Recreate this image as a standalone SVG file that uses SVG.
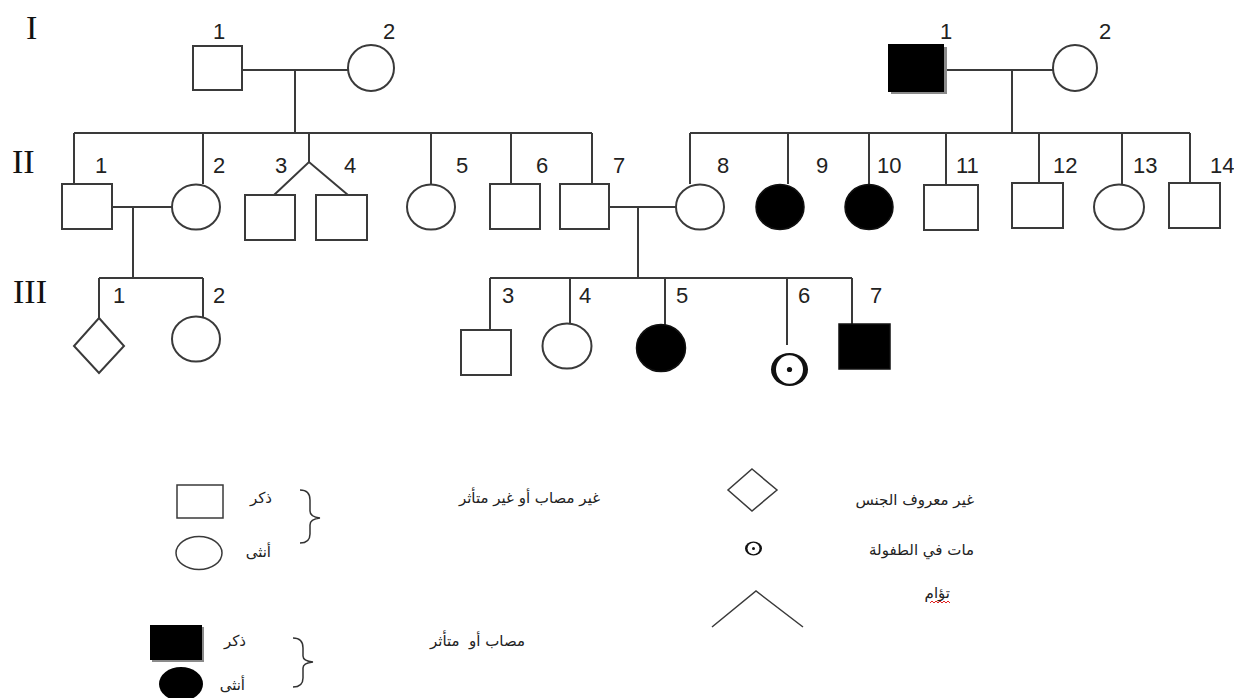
<svg xmlns="http://www.w3.org/2000/svg" width="1234" height="698" viewBox="0 0 1234 698">
<style>
  .ln{stroke:#3a3a3a;stroke-width:2;fill:none}
  .o{fill:#fff;stroke:#3a3a3a;stroke-width:2}
  .f{fill:#000;stroke:#111;stroke-width:1.5}
  .sh{fill:#8a8a8a}
  .num{font-family:"Liberation Sans",Arial,sans-serif;font-size:22px;fill:#222}
  .gen{font-family:"Liberation Serif","Times New Roman",serif;font-size:34px;fill:#111}
  .ar{font-family:"DejaVu Sans","Noto Sans",sans-serif;font-size:15px;fill:#222;white-space:pre}
  .br{stroke:#333;stroke-width:1.5;fill:none}
</style>
<rect width="1234" height="698" fill="#fff"/>

<g id="generations">
  <text class="gen" x="26" y="39">I</text>
  <text class="gen" x="12" y="173">II</text>
  <text class="gen" x="13" y="303">III</text>
</g>

<g id="connectors">
  <path class="ln" d="M242,70 H348 M295,70 V133 M74,133 H592 M74,133 V184 M203,133 V184 M309,133 V162 M431,133 V184 M511,133 V184 M592,133 V184"/>
  <path class="ln" d="M274,195 L309,162 L348,195"/>
  <path class="ln" d="M112,207 H172 M133,207 V278 M99,278 H203 M99,278 V318 M203,278 V317"/>
  <path class="ln" d="M944,70 H1053 M1012,70 V133 M690,133 H1190 M690,133 V184 M788,133 V184 M869,133 V184 M946,133 V185 M1039,133 V183 M1122,133 V184 M1190,133 V183"/>
  <path class="ln" d="M609,207 H676 M638,207 V278 M490,278 H852 M490,278 V330 M570,278 V324 M665,278 V325 M787,278 V345 M852,278 V324"/>
</g>

<g id="I-1"><rect class="o" x="193" y="46" width="49" height="44"/><text class="num" x="213" y="39">1</text></g>
<g id="I-2"><ellipse class="o" cx="371" cy="68" rx="23" ry="23"/><text class="num" x="383" y="39">2</text></g>
<g id="I-1b"><rect class="sh" x="891" y="47" width="56" height="47"/><rect x="888" y="44" width="56" height="48" fill="#000"/><text class="num" x="940" y="39">1</text></g>
<g id="I-2b"><ellipse class="o" cx="1075" cy="68" rx="22" ry="23"/><text class="num" x="1099" y="39">2</text></g>

<g id="II-1"><rect class="o" x="62" y="184" width="50" height="45"/><text class="num" x="95" y="173">1</text></g>
<g id="II-2"><ellipse class="o" cx="196" cy="207" rx="24" ry="22.5"/><text class="num" x="213" y="173">2</text></g>
<g id="II-3"><rect class="o" x="245" y="195" width="50" height="45"/><text class="num" x="275" y="173">3</text></g>
<g id="II-4"><rect class="o" x="316" y="195" width="51" height="45"/><text class="num" x="344" y="173">4</text></g>
<g id="II-5"><ellipse class="o" cx="431" cy="207" rx="24" ry="22.5"/><text class="num" x="456" y="173">5</text></g>
<g id="II-6"><rect class="o" x="490" y="184" width="50" height="45"/><text class="num" x="536" y="173">6</text></g>
<g id="II-7"><rect class="o" x="560" y="184" width="49" height="45"/><text class="num" x="613" y="173">7</text></g>
<g id="II-8"><ellipse class="o" cx="700" cy="207" rx="24" ry="22.5"/><text class="num" x="717" y="173">8</text></g>
<g id="II-9"><ellipse class="f" cx="780" cy="207" rx="24" ry="22.5"/><text class="num" x="816" y="173">9</text></g>
<g id="II-10"><ellipse class="f" cx="869" cy="207" rx="24" ry="22.5"/><text class="num" x="877" y="173">10</text></g>
<g id="II-11"><rect class="o" x="924" y="185" width="54" height="45"/><text class="num" x="956" y="173">11</text></g>
<g id="II-12"><rect class="o" x="1012" y="183" width="51" height="45"/><text class="num" x="1053" y="173">12</text></g>
<g id="II-13"><ellipse class="o" cx="1119" cy="207" rx="25" ry="22.5"/><text class="num" x="1133" y="173">13</text></g>
<g id="II-14"><rect class="o" x="1169" y="183" width="51" height="45"/><text class="num" x="1210" y="173">14</text></g>

<g id="III-1"><polygon class="o" points="99,318 124,346 99,373 74,346"/><text class="num" x="113" y="303">1</text></g>
<g id="III-2"><ellipse class="o" cx="196" cy="339" rx="24" ry="22.5"/><text class="num" x="213" y="303">2</text></g>
<g id="III-3"><rect class="o" x="461" y="330" width="50" height="45"/><text class="num" x="502" y="303">3</text></g>
<g id="III-4"><ellipse class="o" cx="567" cy="346" rx="24.5" ry="22.5"/><text class="num" x="579" y="303">4</text></g>
<g id="III-5"><ellipse class="f" cx="661" cy="348" rx="24.5" ry="23.5"/><text class="num" x="676" y="303">5</text></g>
<g id="III-6"><ellipse cx="789.5" cy="369.5" rx="18.5" ry="16.5" fill="#111"/><ellipse cx="789.5" cy="369.5" rx="13.5" ry="14.3" fill="#fff"/><circle cx="789.5" cy="369.5" r="2.6" fill="#111"/><text class="num" x="798" y="303">6</text></g>
<g id="III-7"><rect class="f" x="839" y="324" width="51" height="45"/><text class="num" x="870" y="303">7</text></g>

<g id="legend">
  <rect class="o" x="177" y="485" width="46" height="33" style="stroke-width:1.5"/>
  <text class="ar" x="272" y="503" text-anchor="end">ذكر</text>
  <ellipse class="o" cx="199" cy="553" rx="23" ry="16.5" style="stroke-width:1.5"/>
  <text class="ar" x="271" y="557" text-anchor="end">أنثى</text>
  <path class="br" d="M300,490 Q310,490 310,500 L310,511 Q310,517 320,518 Q310,519 310,525 L310,534 Q310,543 300,543"/>
  <text class="ar" x="600" y="503" text-anchor="end">غير مصاب أو غير متأثر</text>

  <rect class="sh" x="152" y="627" width="52" height="35"/>
  <rect x="150" y="625" width="52" height="35" fill="#000"/>
  <text class="ar" x="246" y="646" text-anchor="end">ذكر</text>
  <ellipse cx="181" cy="684" rx="22" ry="17" fill="#000"/>
  <text class="ar" x="245" y="690" text-anchor="end">أنثى</text>
  <path class="br" d="M293,638 Q303,638 303,648 L303,656 Q303,661 313,662 Q303,663 303,668 L303,678 Q303,687 293,687"/>
  <text class="ar" x="525" y="646" text-anchor="end" xml:space="preserve">مصاب أو  متأثر</text>

  <polygon class="o" points="752,469 777,490 752,511 728,490" style="stroke-width:1.5"/>
  <text class="ar" x="974" y="505" text-anchor="end">غير معروف الجنس</text>
  <ellipse cx="753.5" cy="548.5" rx="8.5" ry="7" fill="#111"/><ellipse cx="753.5" cy="548.5" rx="6" ry="5.8" fill="#fff"/><circle cx="753.5" cy="548.5" r="1.5" fill="#111"/>
  <text class="ar" x="974" y="555" text-anchor="end">مات في الطفولة</text>
  <path class="ln" style="stroke-width:1.5" d="M712,627 L756,591 L803,627"/>
  <text class="ar" x="950" y="598" text-anchor="end">تؤام</text>
  <path d="M930,603 l2,-2 2,2 2,-2 2,2 2,-2 2,2 2,-2 2,2 2,-2 2,2" fill="none" stroke="#e02020" stroke-width="1"/>
</g>
</svg>
